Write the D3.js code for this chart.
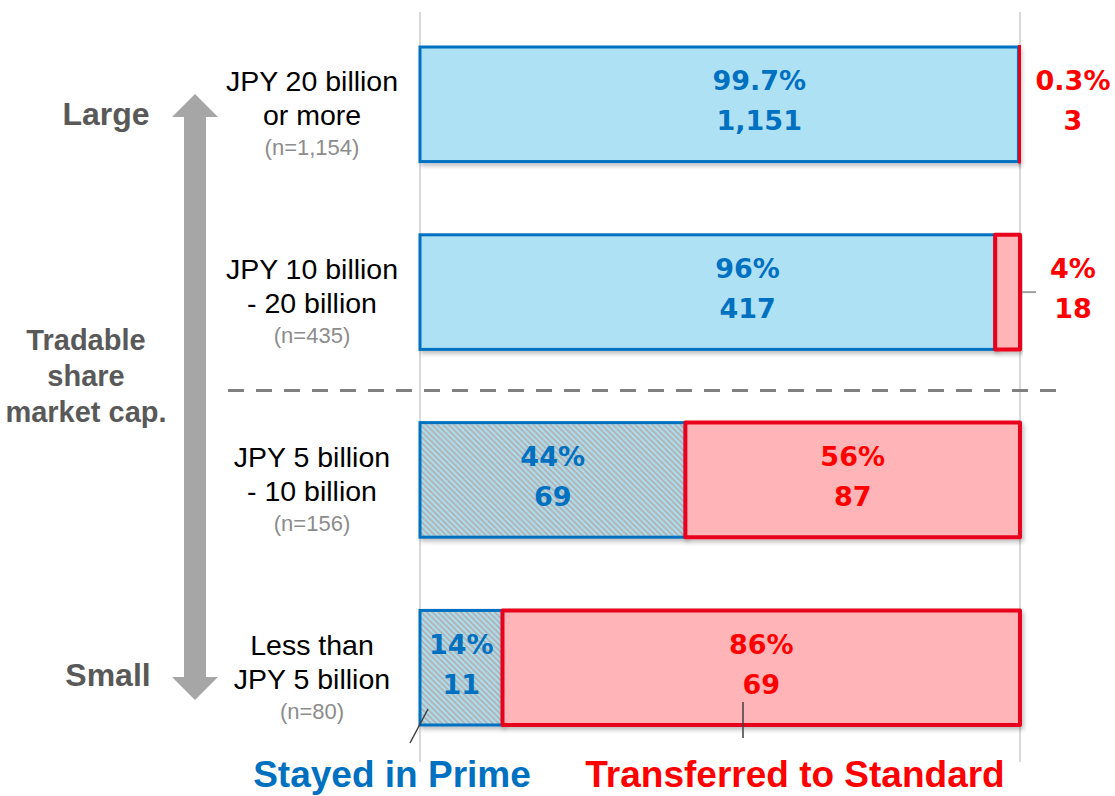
<!DOCTYPE html>
<html lang="en">
  <head>
    <meta charset="UTF-8" />
    <title>Prime / Standard by tradable share market cap</title>
    <script src="https://d3js.org/d3.v7.min.js"></script>
    <style>
      body {
        margin: 0;
        background: #fff;
        font-family: "Liberation Sans", Arial, sans-serif;
      }
    </style>
  </head>
  <body>
    <div id="chart"></div>
    <script>
      // data
      const categories = [
        ["JPY 20 billion", "or more"],
        ["JPY 10 billion", "- 20 billion"],
        ["JPY 5 billion", "- 10 billion"],
        ["Less than", "JPY 5 billion"],
      ];
      const sampleSizes = [1154, 435, 156, 80];
      const stayedCounts = [1151, 417, 69, 11];
      const transferredCounts = [3, 18, 87, 69];
      const stayedPct = ["99.7%", "96%", "44%", "14%"];
      const transferredPct = ["0.3%", "4%", "56%", "86%"];
      const dividerAfter = 1; // dashed line sits below the 2nd category

      const width = 1115;
      const height = 796;
      const blue = "#0070C0";
      const blueFill = "#AFE1F5";
      const red = "#E8001C";
      const redFill = "#FFB5B7";
      const redText = "#FF0000";
      const numFont = "'DejaVu Sans', Verdana, sans-serif";

      const svg = d3
        .select("#chart")
        .append("svg")
        .attr("width", width)
        .attr("height", height);

      const defs = svg.append("defs");
      const pat = defs
        .append("pattern")
        .attr("id", "hatch")
        .attr("patternUnits", "userSpaceOnUse")
        .attr("width", 4)
        .attr("height", 4)
        .attr("patternTransform", "rotate(-45)");
      pat.append("rect").attr("width", 4).attr("height", 4).attr("fill", "#A9DDF0");
      pat.append("rect").attr("width", 2).attr("height", 4).attr("fill", "#B4B4B4");

      const shadow = defs.append("filter").attr("id", "shadow");
      shadow
        .append("feDropShadow")
        .attr("dx", 2)
        .attr("dy", 3)
        .attr("stdDeviation", 2)
        .attr("flood-opacity", 0.25);

      const x = d3.scaleLinear().domain([0, 1]).range([420, 1020]);
      const y = d3
        .scaleBand()
        .domain(d3.range(categories.length))
        .range([47, 725])
        .paddingInner(0.39)
        .paddingOuter(0);

      const rows = categories.map((c, i) => ({
        i,
        label: c,
        n: sampleSizes[i],
        stayed: stayedCounts[i],
        moved: transferredCounts[i],
        s: stayedCounts[i] / sampleSizes[i],
        sp: stayedPct[i],
        mp: transferredPct[i],
      }));

      // grid lines at 0% and 100%
      svg
        .append("g")
        .selectAll("line")
        .data([0, 1])
        .join("line")
        .attr("x1", (d) => x(d))
        .attr("x2", (d) => x(d))
        .attr("y1", 12)
        .attr("y2", 762)
        .attr("stroke", "#D9D9D9")
        .attr("stroke-width", 2);

      // divider
      const divY = y(dividerAfter + 1) - 32;
      svg
        .append("line")
        .attr("x1", 228)
        .attr("x2", 1058)
        .attr("y1", divY)
        .attr("y2", divY)
        .attr("stroke", "#808080")
        .attr("stroke-width", 3)
        .attr("stroke-dasharray", "16 12");

      const bars = svg.append("g").selectAll("g").data(rows).join("g");

      // stayed segment
      bars
        .append("rect")
        .attr("x", x(0))
        .attr("y", (d) => y(d.i))
        .attr("width", (d) => x(d.s) - x(0))
        .attr("height", y.bandwidth())
        .attr("fill", (d) => (d.i > dividerAfter ? "url(#hatch)" : blueFill))
        .attr("stroke", blue)
        .attr("stroke-width", 3)
        .attr("filter", "url(#shadow)");

      // transferred segment
      bars
        .append("rect")
        .attr("x", (d) => x(d.s))
        .attr("y", (d) => y(d.i))
        .attr("width", (d) => x(1) - x(d.s))
        .attr("height", y.bandwidth())
        .attr("fill", redFill)
        .attr("stroke", red)
        .attr("stroke-width", 4)
        .attr("stroke-linejoin", "round")
        .attr("filter", "url(#shadow)");

      // labels inside stayed segment (wide bars have their label pushed right a bit)
      const cy = (d) => y(d.i) + y.bandwidth() / 2;
      const blueX = (d) =>
        (x(0) + x(d.s)) / 2 + (d.i <= dividerAfter ? 40 : 0);
      const blueLab = bars
        .append("text")
        .attr("x", blueX)
        .attr("y", cy)
        .attr("text-anchor", "middle")
        .attr("fill", blue)
        .attr("font-family", numFont)
        .attr("font-weight", "bold")
        .attr("font-size", 27);
      blueLab.append("tspan").attr("dy", -14).text((d) => d.sp);
      blueLab
        .append("tspan")
        .attr("x", blueX)
        .attr("dy", 40)
        .text((d) => d3.format(",")(d.stayed));

      // labels for transferred: inside if wide, else right of the bar
      const inside = (d) => x(1) - x(d.s) > 80;
      const redX = (d) => (inside(d) ? (x(d.s) + x(1)) / 2 : x(1) + 53);
      const redLab = bars
        .append("text")
        .attr("x", redX)
        .attr("y", cy)
        .attr("text-anchor", "middle")
        .attr("fill", redText)
        .attr("font-family", numFont)
        .attr("font-weight", "bold")
        .attr("font-size", 27);
      redLab.append("tspan").attr("dy", -14).text((d) => d.mp);
      redLab
        .append("tspan")
        .attr("x", redX)
        .attr("dy", 40)
        .text((d) => d3.format(",")(d.moved));

      // small leader tick for the 4% label
      svg
        .append("line")
        .attr("x1", x(1) + 2)
        .attr("x2", x(1) + 16)
        .attr("y1", cy(rows[1]))
        .attr("y2", cy(rows[1]))
        .attr("stroke", "#A0A0A0")
        .attr("stroke-width", 2);

      // category labels
      const cat = svg
        .append("g")
        .selectAll("text")
        .data(rows)
        .join("text")
        .attr("x", 312)
        .attr("y", cy)
        .attr("text-anchor", "middle");
      cat
        .append("tspan")
        .attr("x", 312)
        .attr("dy", -13)
        .attr("font-size", 28.5)
        .attr("fill", "#000")
        .text((d) => d.label[0]);
      cat
        .append("tspan")
        .attr("x", 312)
        .attr("dy", 34)
        .attr("font-size", 28.5)
        .attr("fill", "#000")
        .text((d) => d.label[1]);
      cat
        .append("tspan")
        .attr("x", 312)
        .attr("dy", 30)
        .attr("font-size", 22)
        .attr("fill", "#8C8C8C")
        .text((d) => "(n=" + d3.format(",")(d.n) + ")");

      // double arrow
      const ax = 195;
      const arrowTop = 94;
      const arrowBot = 700;
      svg
        .append("path")
        .attr(
          "d",
          `M${ax},${arrowTop} L${ax + 23},${arrowTop + 23} L${ax + 11},${arrowTop + 23} L${ax + 11},${arrowBot - 23}
           L${ax + 23},${arrowBot - 23} L${ax},${arrowBot} L${ax - 23},${arrowBot - 23} L${ax - 11},${arrowBot - 23}
           L${ax - 11},${arrowTop + 23} L${ax - 23},${arrowTop + 23} Z`
        )
        .attr("fill", "#A6A6A6");

      const gray = "#595959";
      svg
        .append("text")
        .attr("x", 106)
        .attr("y", 125)
        .attr("text-anchor", "middle")
        .attr("font-weight", "bold")
        .attr("font-size", 32)
        .attr("fill", gray)
        .text("Large");
      svg
        .append("text")
        .attr("x", 108)
        .attr("y", 686)
        .attr("text-anchor", "middle")
        .attr("font-weight", "bold")
        .attr("font-size", 32)
        .attr("fill", gray)
        .text("Small");
      svg
        .append("g")
        .selectAll("text")
        .data(["Tradable", "share", "market cap."])
        .join("text")
        .attr("x", 86)
        .attr("y", (d, i) => 350 + i * 36)
        .attr("text-anchor", "middle")
        .attr("font-weight", "bold")
        .attr("font-size", 29)
        .attr("fill", gray)
        .text((d) => d);

      // legend callouts
      svg
        .append("line")
        .attr("x1", 410)
        .attr("y1", 743)
        .attr("x2", 428)
        .attr("y2", 709)
        .attr("stroke", "#404040")
        .attr("stroke-width", 1.5);
      svg
        .append("line")
        .attr("x1", 743)
        .attr("x2", 743)
        .attr("y1", 702)
        .attr("y2", 738)
        .attr("stroke", "#404040")
        .attr("stroke-width", 1.5);

      svg
        .append("text")
        .attr("x", 392)
        .attr("y", 787)
        .attr("text-anchor", "middle")
        .attr("font-weight", "bold")
        .attr("font-size", 37)
        .attr("fill", blue)
        .text("Stayed in Prime");
      svg
        .append("text")
        .attr("x", 795)
        .attr("y", 787)
        .attr("text-anchor", "middle")
        .attr("font-weight", "bold")
        .attr("font-size", 37)
        .attr("fill", redText)
        .text("Transferred to Standard");
    </script>
  </body>
</html>
